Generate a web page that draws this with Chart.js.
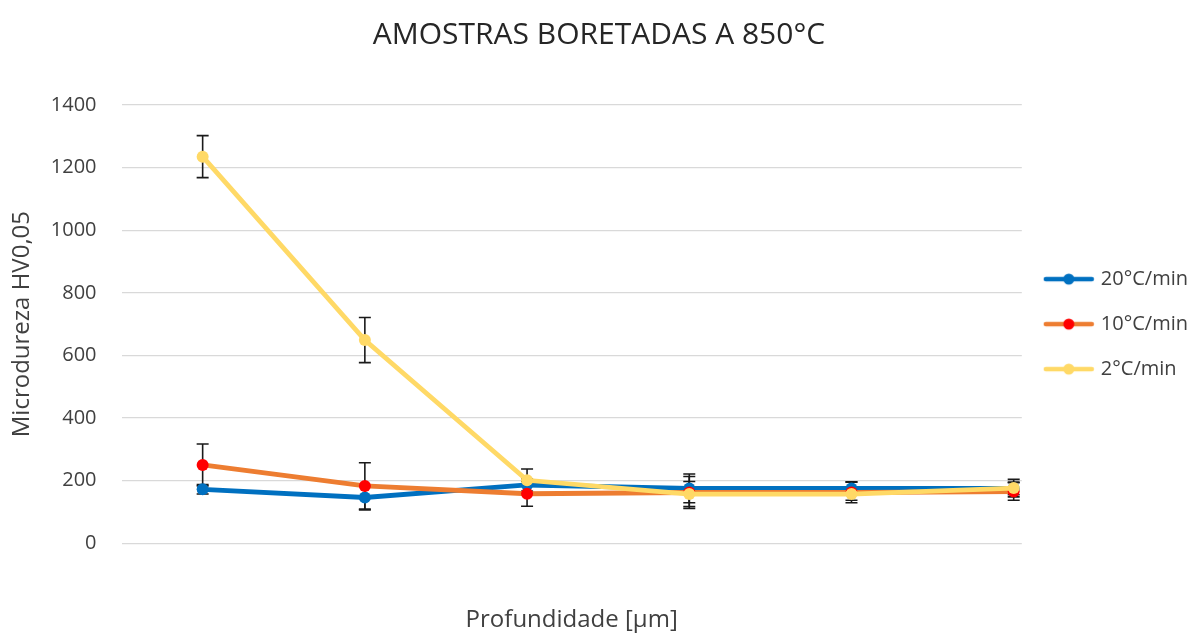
<!DOCTYPE html>
<html>
<head>
<meta charset="utf-8">
<script src="https://cdn.jsdelivr.net/npm/chart.js@4"></script>
<style>
    html, body { margin: 0; padding: 0; background: #fff; }
    #wrap { width: 1193px; height: 635px; }
</style>
</head>
<body>
<div id="wrap"><canvas id="hardnessChart"></canvas></div>
<script>
// depth points (axis labels are hidden in the original, so just index them)
const depthPoints = [1, 2, 3, 4, 5, 6];

const seriesNames = ['20°C/min', '10°C/min', '2°C/min'];

const hv20 = [172, 146, 186, 175, 175, 175];
const hv10 = [250, 183, 158, 162, 162, 165];
const hv2 = [1235, 649, 201, 157, 157, 176];

const err20 = [15, 40, 20, 46, 21, 20];
const err10 = [67, 74, 40, 51, 33, 28];
const err2 = [67, 72, 36, 40, 20, 28];

const yTicks = [0, 200, 400, 600, 800, 1000, 1200, 1400];

const FONT = "'Open Sans', 'Liberation Sans', sans-serif";

const makeLegendSample = (lineColor, dotColor) => {
    const c = document.createElement('canvas');
    c.width = 52;
    c.height = 14;
    const g = c.getContext('2d');
    g.strokeStyle = lineColor;
    g.lineWidth = 4.5;
    g.lineCap = 'round';
    g.beginPath();
    g.moveTo(3, 7);
    g.lineTo(49, 7);
    g.stroke();
    g.fillStyle = dotColor;
    g.beginPath();
    g.arc(26, 7, 5.5, 0, Math.PI * 2);
    g.fill();
    return c;
};

const toPoints = values => values.map((v, i) => ({ x: depthPoints[i], y: v }));

const buildDataset = (label, values, errors, lineColor, dotColor, order) => ({
    label: label,
    data: toPoints(values),
    errors: errors,
    borderColor: lineColor,
    backgroundColor: dotColor,
    pointBackgroundColor: dotColor,
    pointBorderColor: dotColor,
    pointRadius: 6,
    pointBorderWidth: 0,
    borderWidth: 4.8,
    tension: 0,
    order: order,
    pointStyle: 'circle',
    legendSample: makeLegendSample(lineColor, dotColor)
});

// error bars drawn underneath the lines, like the Excel original
const errorBars = {
    id: 'errorBars',
    beforeDatasetsDraw(chart) {
        const ctx = chart.ctx;
        const yScale = chart.scales.y;
        ctx.save();
        ctx.strokeStyle = '#1a1a1a';
        ctx.lineWidth = 1.6;
        chart.data.datasets.forEach((ds, di) => {
            const meta = chart.getDatasetMeta(di);
            meta.data.forEach((pt, i) => {
                const v = ds.data[i].y;
                const e = ds.errors[i];
                const top = yScale.getPixelForValue(v + e);
                const bottom = yScale.getPixelForValue(v - e);
                ctx.beginPath();
                ctx.moveTo(pt.x, top);
                ctx.lineTo(pt.x, bottom);
                ctx.moveTo(pt.x - 6, top);
                ctx.lineTo(pt.x + 6, top);
                ctx.moveTo(pt.x - 6, bottom);
                ctx.lineTo(pt.x + 6, bottom);
                ctx.stroke();
            });
        });
        ctx.restore();
    }
};

const ctx = document.getElementById('hardnessChart').getContext('2d');

const hardnessChart = new Chart(ctx, {
    type: 'line',
    data: {
        datasets: [
            buildDataset(seriesNames[0], hv20, err20, '#0070C0', '#0070C0', 3),
            buildDataset(seriesNames[1], hv10, err10, '#ED7D31', '#FF0000', 2),
            buildDataset(seriesNames[2], hv2, err2, '#FFD966', '#FFD966', 1)
        ]
    },
    options: {
        responsive: true,
        maintainAspectRatio: false,
        animation: false,
        layout: {
            padding: { left: 0, right: -5, top: 0, bottom: 0 }
        },
        plugins: {
            title: {
                display: true,
                text: 'AMOSTRAS BORETADAS A 850°C',
                color: '#262626',
                font: { family: FONT, size: 30, weight: 'normal' },
                padding: { top: 17, bottom: 52 }
            },
            legend: {
                display: true,
                position: 'right',
                fullSize: false,
                labels: {
                    usePointStyle: true,
                    pointStyleWidth: 44,
                    padding: 25,
                    color: '#404040',
                    font: { family: FONT, size: 20 },
                    sort: (a, b) => a.datasetIndex - b.datasetIndex,
                    generateLabels: chart => chart.data.datasets.map((ds, i) => ({
                        text: ds.label,
                        datasetIndex: i,
                        pointStyle: ds.legendSample,
                        fillStyle: ds.backgroundColor,
                        strokeStyle: ds.borderColor,
                        lineWidth: 0,
                        fontColor: '#404040',
                        hidden: false
                    }))
                }
            },
            tooltip: { enabled: false }
        },
        scales: {
            x: {
                type: 'linear',
                min: 0.5,
                max: 6.05,
                grid: { display: false },
                border: { display: false },
                ticks: { display: false },
                title: {
                    display: true,
                    text: 'Profundidade [μm]',
                    color: '#404040',
                    font: { family: FONT, size: 24 },
                    padding: { top: 55, bottom: 0 }
                }
            },
            y: {
                min: 0,
                max: 1400,
                afterBuildTicks: axis => {
                    axis.ticks = yTicks.map(v => ({ value: v }));
                },
                grid: {
                    color: '#d9d9d9',
                    lineWidth: 1.3,
                    drawTicks: false
                },
                border: { display: false },
                ticks: {
                    color: '#404040',
                    padding: 25,
                    font: { family: FONT, size: 20 },
                    callback: v => String(v)
                },
                title: {
                    display: true,
                    text: 'Microdureza HV0,05',
                    color: '#404040',
                    font: { family: FONT, size: 24 },
                    padding: { top: 8, bottom: -11 }
                }
            }
        }
    },
    plugins: [errorBars]
});
</script>
</body>
</html>
